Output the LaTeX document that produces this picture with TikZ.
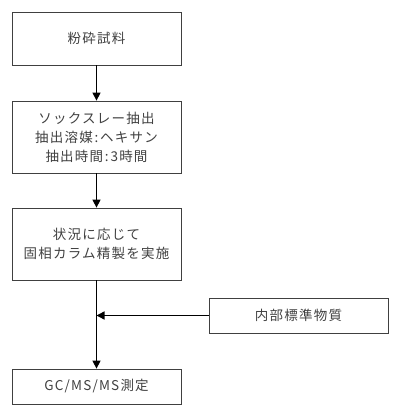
\documentclass[tikz,border=0pt]{standalone}
\usepackage{fontspec}
\newfontfamily\jp[LetterSpace=9]{Noto Sans CJK JP}
\newcommand{\hcolon}{\makebox[0.55em]{:}}
\usetikzlibrary{arrows.meta}
\begin{document}
\begin{tikzpicture}[x=1pt,y=-1pt,
  stepbox/.style={draw=black!75, line width=0.8pt, rectangle, minimum width=169pt, inner sep=0pt, align=center, font=\jp\fontsize{13.5}{19}\selectfont, text=black!75},
  conn/.style={line width=1.4pt, draw=black, -{Triangle[length=8pt,width=8pt]}}]
\useasboundingbox (0,0) rectangle (400,409);
\node[stepbox, minimum height=53pt] (a) at (96.5,38.5) {粉砕試料};
\node[stepbox, minimum height=72pt] (b) at (96.5,137) {ソックスレー抽出\\抽出溶媒\hcolon ヘキサン\\抽出時間\hcolon 3時間};
\node[stepbox, minimum height=72pt] (c) at (96.5,244) {状況に応じて\\固相カラム精製を実施};
\node[stepbox, minimum height=35pt] (d) at (96.5,386.5) {GC/MS/MS測定};
\node[stepbox, minimum width=179pt, minimum height=35pt] (e) at (298.5,315.5) {内部標準物質};
\coordinate (j) at (96.5,315.5);
\draw[conn] (a) -- (b);
\draw[conn] (b) -- (c);
\draw[conn] (c) -- (d);
\draw[conn] (e) -- (j);
\end{tikzpicture}
\end{document}
